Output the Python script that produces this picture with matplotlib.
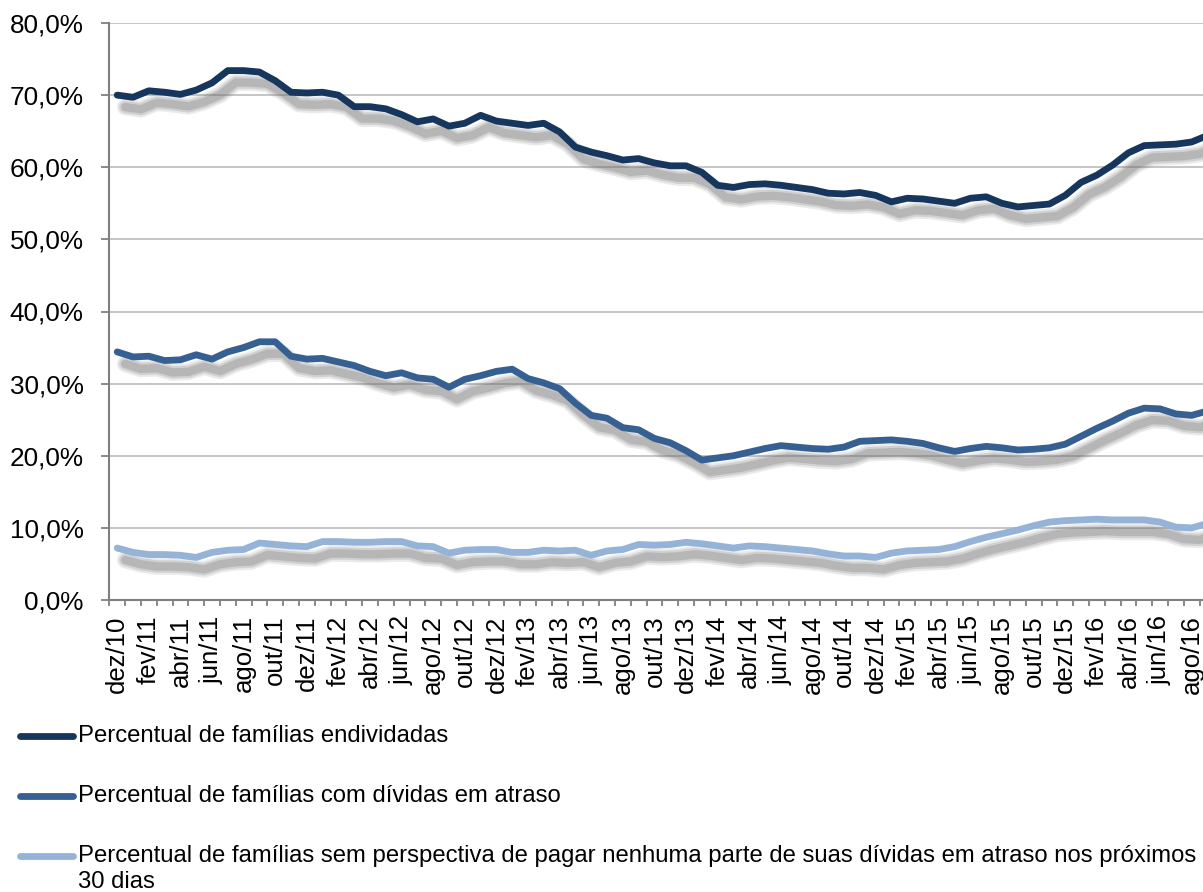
#!/usr/bin/python3
#
# Endividamento e inadimplencia das familias, dez/10 a set/16
#

import matplotlib
matplotlib.use("Agg")
import matplotlib.pyplot as plt
from matplotlib import patheffects as pe
from matplotlib.lines import Line2D
from matplotlib.ticker import FuncFormatter, MultipleLocator, FixedLocator
import numpy as np

plt.rcParams['font.family'] = ['Liberation Sans', 'DejaVu Sans']

##################################################
#
# data
#
##################################################

month_names = ['jan', 'fev', 'mar', 'abr', 'mai', 'jun',
               'jul', 'ago', 'set', 'out', 'nov', 'dez']
categories = ['dez/10'] + [f'{m}/{y}' for y in range(11, 17) for m in month_names][:69]

endividadas = [70.0, 69.7, 70.6, 70.4, 70.1, 70.7, 71.7, 73.4, 73.4, 73.2,
               72.0, 70.4, 70.3, 70.4, 70.0, 68.4, 68.4, 68.1, 67.3, 66.3,
               66.7, 65.7, 66.1, 67.2, 66.4, 66.1, 65.8, 66.1, 64.9, 62.8,
               62.1, 61.6, 61.0, 61.2, 60.6, 60.2, 60.2, 59.3, 57.5, 57.2,
               57.6, 57.7, 57.5, 57.2, 56.9, 56.4, 56.3, 56.5, 56.1, 55.2,
               55.7, 55.6, 55.3, 55.0, 55.7, 55.9, 55.0, 54.5, 54.7, 54.9,
               56.1, 57.9, 58.9, 60.3, 62.0, 63.0, 63.1, 63.2, 63.5, 64.4]

em_atraso = [34.4, 33.7, 33.8, 33.2, 33.3, 34.0, 33.4, 34.4, 35.0, 35.8,
             35.8, 33.8, 33.4, 33.5, 33.0, 32.5, 31.7, 31.1, 31.5, 30.8,
             30.6, 29.5, 30.6, 31.1, 31.7, 32.0, 30.7, 30.1, 29.3, 27.3,
             25.6, 25.2, 23.9, 23.6, 22.4, 21.8, 20.7, 19.4, 19.7, 20.0,
             20.5, 21.0, 21.4, 21.2, 21.0, 20.9, 21.2, 22.0, 22.1, 22.2,
             22.0, 21.7, 21.1, 20.6, 21.0, 21.3, 21.1, 20.8, 20.9, 21.1,
             21.6, 22.7, 23.8, 24.8, 25.9, 26.6, 26.5, 25.8, 25.6, 26.2]

sem_perspectiva = [7.2, 6.6, 6.3, 6.3, 6.2, 5.9, 6.6, 6.9, 7.0, 7.9,
                   7.7, 7.5, 7.4, 8.1, 8.1, 8.0, 8.0, 8.1, 8.1, 7.5,
                   7.4, 6.5, 6.9, 7.0, 7.0, 6.6, 6.6, 6.9, 6.8, 6.9,
                   6.2, 6.8, 7.0, 7.7, 7.6, 7.7, 8.0, 7.8, 7.5, 7.2,
                   7.5, 7.4, 7.2, 7.0, 6.8, 6.4, 6.1, 6.1, 5.9, 6.5,
                   6.8, 6.9, 7.0, 7.4, 8.1, 8.7, 9.2, 9.7, 10.3, 10.8,
                   11.0, 11.1, 11.2, 11.1, 11.1, 11.1, 10.8, 10.1, 10.0, 10.6]

series_labels = ['Percentual de famílias endividadas',
                 'Percentual de famílias com dívidas em atraso',
                 'Percentual de famílias sem perspectiva de pagar nenhuma parte de suas dívidas em atraso nos próximos']
extra_line = '30 dias'
colors = ['#17365D', '#366092', '#95B3D7']

##################################################
#
# plot
#
##################################################

W, H = 1203, 892
fig = plt.figure(figsize=(W / 100, H / 100), dpi=100)
ax = fig.add_axes([109.3 / W, 1 - 600 / H, 1 - 109.3 / W, 577 / H])

x = np.arange(len(categories))

# soft gray drop shadow, like the spreadsheet one
shadow = [pe.SimpleLineShadow(offset=(5.8, -8.6), shadow_color='#707070',
                              alpha=a, rho=1, linewidth=w)
          for w, a in ((12, 0.14), (9, 0.2), (6, 0.28))] + [pe.Normal()]

for vals, c in zip([endividadas, em_atraso, sem_perspectiva], colors):
    ax.plot(x, vals, color=c, lw=4.9, solid_capstyle='round',
            solid_joinstyle='round', path_effects=shadow, zorder=3)

ax.set_xlim(-0.5, 68.72)
ax.set_ylim(0, 80)

# y axis
ax.yaxis.set_major_locator(MultipleLocator(10))
ax.yaxis.set_major_formatter(FuncFormatter(lambda v, p: f'{v:.1f}%'.replace('.', ',')))
ax.grid(axis='y', color='#C0C0C0', lw=1.3, zorder=0)
ax.tick_params(axis='y', length=5.5, width=1.3, color='#808080', pad=13, labelsize=18.8)

# x axis: ticks between the months, label every second month
ax.xaxis.set_major_locator(FixedLocator(x[::2]))
ax.set_xticklabels(categories[::2], rotation=90)
ax.xaxis.set_minor_locator(FixedLocator(np.arange(-0.5, 69, 1)))
ax.tick_params(axis='x', which='major', length=0, pad=11, labelsize=18.5)
ax.tick_params(axis='x', which='minor', length=4, width=1.3, color='#808080')

for side in ['top', 'right']:
    ax.spines[side].set_visible(False)
for side in ['left', 'bottom']:
    ax.spines[side].set_color('#808080')
    ax.spines[side].set_linewidth(1.5)

# legend below the chart
legend_y = [736, 796, 856]
for lab, c, yy in zip(series_labels, colors, legend_y):
    fig.add_artist(Line2D([20 / W, 73 / W], [1 - yy / H] * 2, transform=fig.transFigure,
                          color=c, lw=4.9, solid_capstyle='round'))
    fig.text(78 / W, 1 - yy / H, lab, fontsize=17.2, va='center', ha='left')
fig.text(78 / W, 1 - 882 / H, extra_line, fontsize=17.2, va='center', ha='left')

fig.savefig('out.png', dpi=100)
